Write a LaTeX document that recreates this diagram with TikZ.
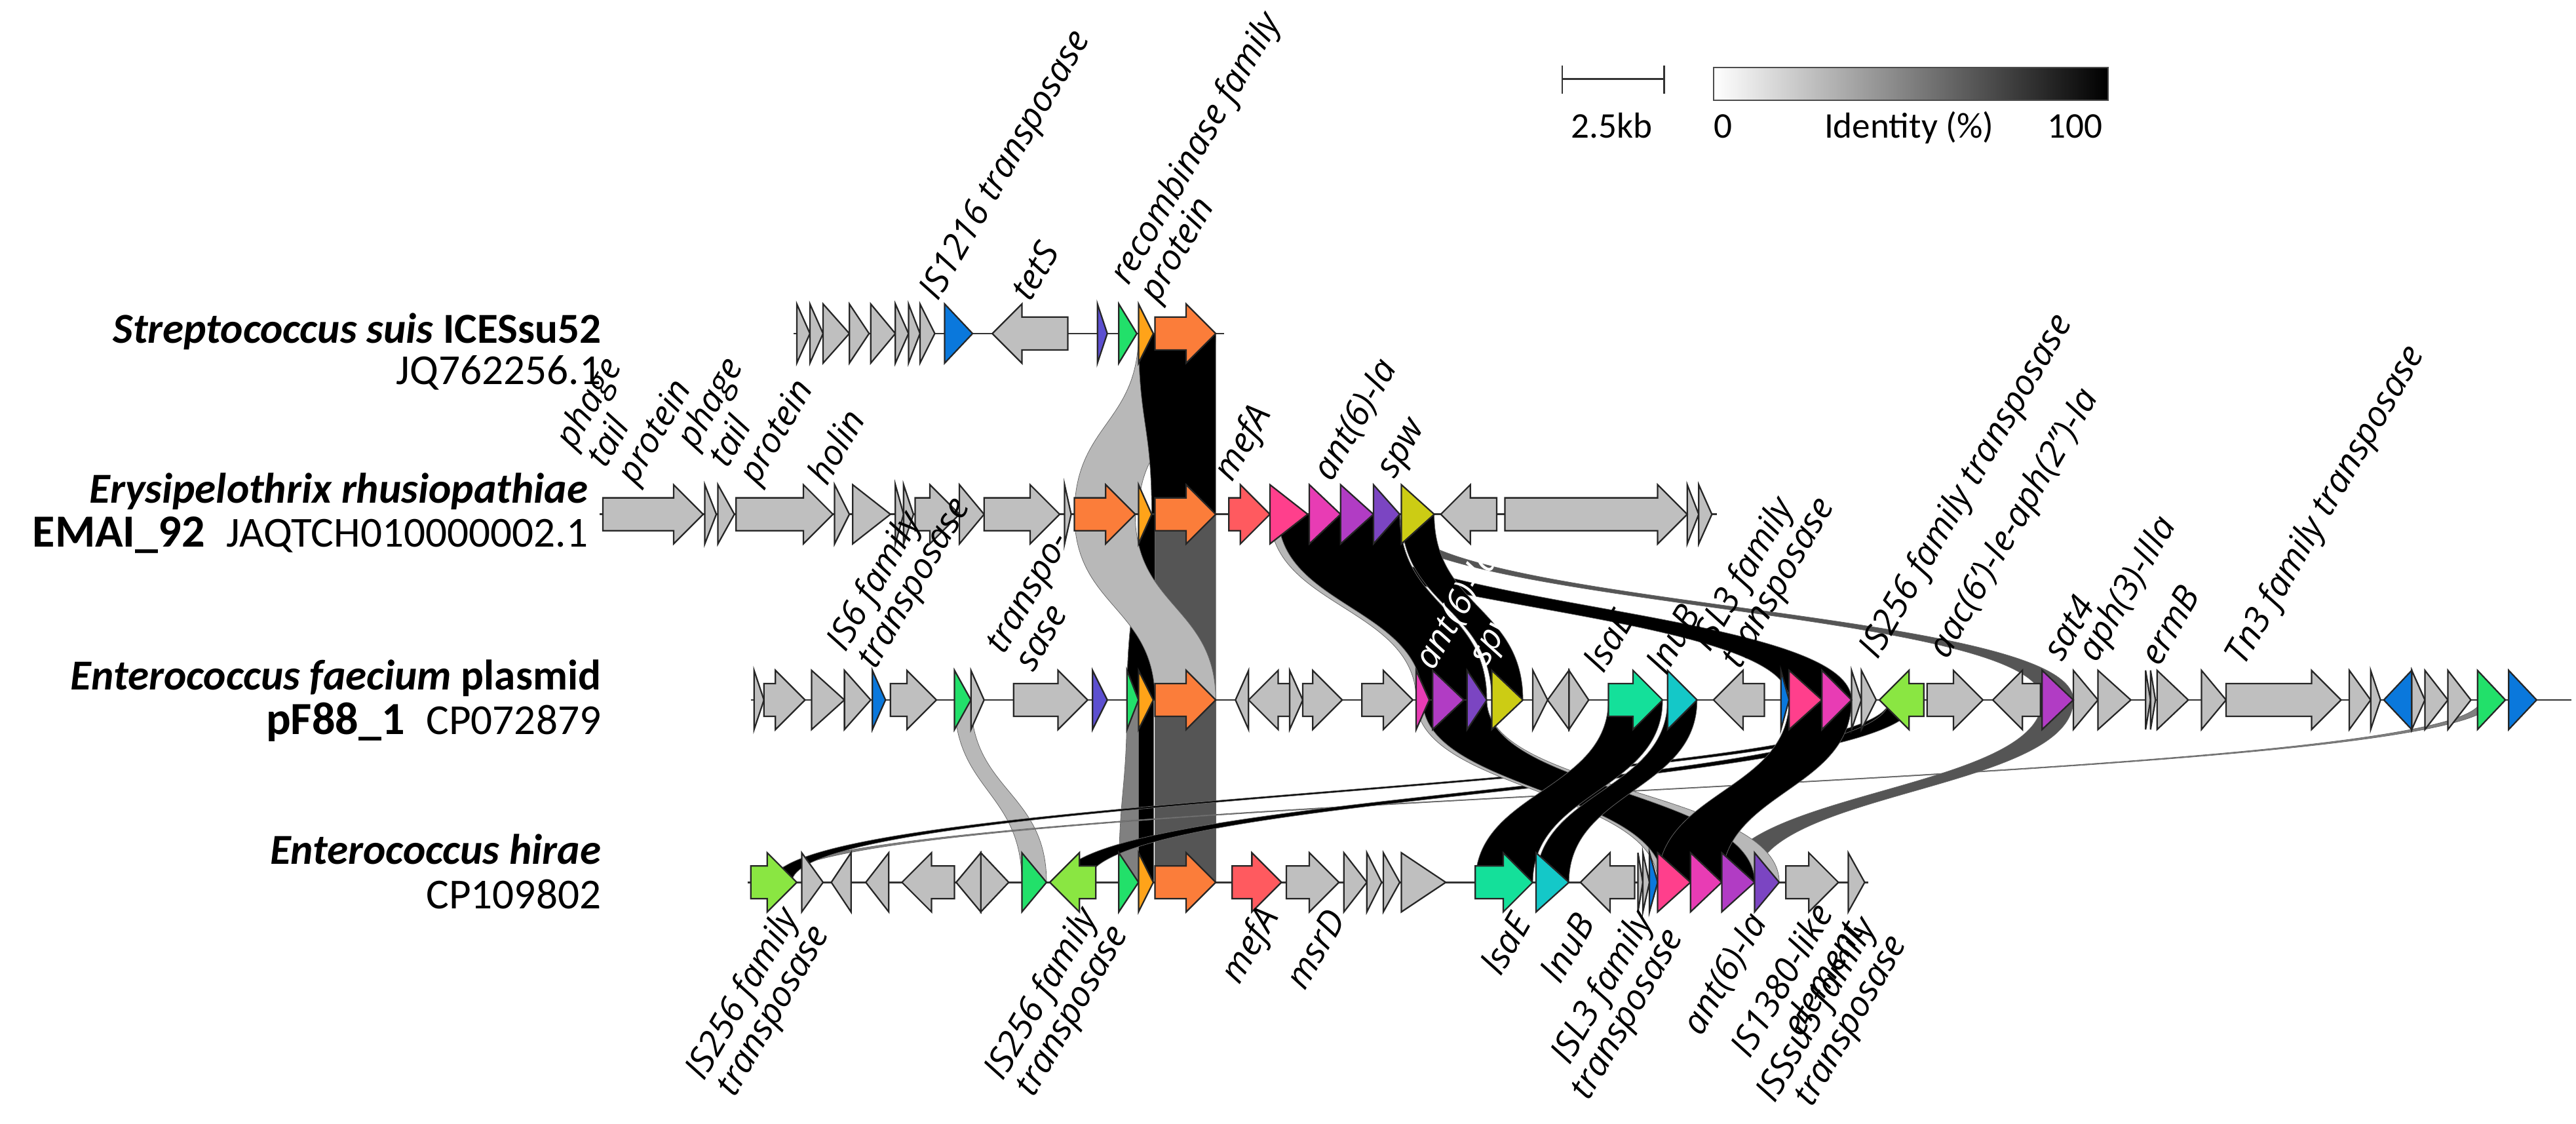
\documentclass[tikz,border=0pt]{standalone}
\usepackage{fontspec}
\setmainfont{Carlito}
\newfontfamily\genefont{Open Sans}
\usepackage{tikz}
\usetikzlibrary{positioning}

\definecolor{cgray}{HTML}{BFBFBF}
\definecolor{cblue}{HTML}{0A78DC}
\definecolor{cindigo}{HTML}{5C4FD0}
\definecolor{cgreen}{HTML}{22E06A}
\definecolor{corS}{HTML}{FFA319}
\definecolor{corange}{HTML}{FB7D3A}
\definecolor{cred}{HTML}{FF5A5F}
\definecolor{cpink}{HTML}{FF3F8C}
\definecolor{cmag}{HTML}{E83CB4}
\definecolor{cpurple}{HTML}{B13CC4}
\definecolor{cviolet}{HTML}{7B45C2}
\definecolor{cyellow}{HTML}{CCCC14}
\definecolor{clsa}{HTML}{14E09A}
\definecolor{ccyan}{HTML}{14C8C8}
\definecolor{clgreen}{HTML}{8AE642}
\definecolor{ribL}{HTML}{B8B8B8}
\definecolor{ribM}{HTML}{808080}
\definecolor{ribD}{HTML}{555555}

\tikzset{
  gene/.style={draw=black!85, line width=0.9pt, line join=miter},
  track/.style={draw=black!80, line width=1pt},
  rib/.style={draw=black!60, line width=0.3pt},
  glab/.style={font={\genefont\itshape\fontsize{21.5}{21}\selectfont}, rotate=60, inner sep=1pt},
  slab/.style={font={\fontsize{26}{28}\selectfont}, anchor=base east, inner sep=0pt},
  legend/.style={font={\fontsize{22}{24}\selectfont}, anchor=base, inner sep=0pt}
}

% genes: x1, x2, y, colour
\newcommand{\gf}[4]{\filldraw[gene,fill=#4] (#1,#3-10) -- (#2-18,#3-10) -- (#2-18,#3-18) -- (#2,#3) -- (#2-18,#3+18) -- (#2-18,#3+10) -- (#1,#3+10) -- cycle;}
\newcommand{\gr}[4]{\filldraw[gene,fill=#4] (#2,#3-10) -- (#1+18,#3-10) -- (#1+18,#3-18) -- (#1,#3) -- (#1+18,#3+18) -- (#1+18,#3+10) -- (#2,#3+10) -- cycle;}
\newcommand{\tf}[4]{\filldraw[gene,fill=#4] (#1,#3-18) -- (#2,#3) -- (#1,#3+18) -- cycle;}
\newcommand{\tr}[4]{\filldraw[gene,fill=#4] (#2,#3-18) -- (#1,#3) -- (#2,#3+18) -- cycle;}
% identity band: x1, x2, y (upper), x1, x2, y (lower), colour
\newcommand{\band}[7]{\filldraw[rib,fill=#7] (#1,#3) .. controls (#1,{(#3+#6)/2}) and (#4,{(#3+#6)/2}) .. (#4,#6) -- (#5,#6) .. controls (#5,{(#3+#6)/2}) and (#2,{(#3+#6)/2}) .. (#2,#3) -- cycle;}
% labels above / below a track
\newcommand{\up}[3]{\node[glab, anchor=south west, align=left] at (#1,#2) {#3};}
\newcommand{\dn}[3]{\node[glab, anchor=north east, align=right] at (#1,#2) {#3};}

\def\yA{203}
\def\yB{313}
\def\yC{426}
\def\yD{537}

\begin{document}
\begin{tikzpicture}[x=1pt, y=-1pt]
    \useasboundingbox (0,0) rectangle (1568,684);

    % Legend
    \draw[track] (951,40) -- (951,57);
    \draw[track] (1013,40) -- (1013,57);
    \draw[track] (951,48) -- (1013,48);
    \node[legend] (scale) at (981,84) {2.5kb};
    \shade[left color=white, right color=black] (1043,41) rectangle (1283,61);
    \draw[black!70, line width=0.8pt] (1043,41) rectangle (1283,61);
    \node[legend] (id0) at (1049,84) {0};
    \node[legend] (idt) at (1162,84) {Identity (\%)};
    \node[legend] (id100) at (1263,84) {100};

    % Species
    \node[slab] (sp1) at (366,209) {\textbf{\textit{Streptococcus suis} ICESsu52}};
    \node[slab] (ac1) at (366,234) {JQ762256.1};
    \node[slab] (sp2) at (358,306) {\textbf{\textit{Erysipelothrix rhusiopathiae}}};
    \node[slab] (ac2) at (358,333) {{\fontsize{28}{30}\selectfont\textbf{EMAI\_92}}\enspace JAQTCH010000002.1};
    \node[slab] (sp3) at (366,420) {\textbf{\textit{Enterococcus faecium} plasmid}};
    \node[slab] (ac3) at (366,447) {{\fontsize{28}{30}\selectfont\textbf{pF88\_1}}\enspace CP072879};
    \node[slab] (sp4) at (366,526) {\textbf{\textit{Enterococcus hirae}}};
    \node[slab] (ac4) at (366,553) {CP109802};

    % Identity bands: track 1 to 2
    \band{693}{740}{\yA}{654}{693}{\yB}{ribL}
    \band{693}{740}{\yA}{701}{740}{\yB}{black}
    % track 2 to 3
    \band{693}{740}{\yB}{686}{740}{\yC}{ribD}
    \band{693}{703}{\yB}{686}{703}{\yC}{black}
    \band{654}{691}{\yB}{703}{740}{\yC}{ribL}
    \band{840}{852}{\yB}{1243}{1262}{\yC}{ribD}
    \band{778}{816}{\yB}{1089}{1127}{\yC}{black}
    \band{773}{852}{\yB}{862}{905}{\yC}{ribL}
    \band{778}{852}{\yB}{866}{905}{\yC}{black}
    \band{853}{873}{\yB}{908}{927}{\yC}{black}
    % track 3 to 4
    \band{581}{591}{\yC}{622}{637}{\yD}{ribL}
    \band{686}{702}{\yC}{681}{702}{\yD}{ribM}
    \band{693}{702}{\yC}{693}{702}{\yD}{black}
    \band{703}{740}{\yC}{703}{740}{\yD}{ribD}
    \band{1510}{1518}{\yC}{466}{474}{\yD}{ribM}
    \band{1150}{1162}{\yC}{470}{482}{\yD}{black}
    \band{1150}{1166}{\yC}{645}{662}{\yD}{black}
    \band{1243}{1262}{\yC}{1048}{1068}{\yD}{ribD}
    \band{862}{905}{\yC}{1009}{1083}{\yD}{ribL}
    \band{866}{905}{\yC}{1012}{1068}{\yD}{black}
    \band{1089}{1127}{\yC}{1009}{1048}{\yD}{black}
    \band{979}{1012}{\yC}{898}{933}{\yD}{black}
    \band{1015}{1033}{\yC}{935}{955}{\yD}{black}

    % Track 1
    \draw[track] (483,\yA) -- (745,\yA);
    \foreach \a/\b in {485/493, 493/501, 501/517, 517/529, 530/545, 545/553, 553/560, 560/569}
        {\tf{\a}{\b}{\yA}{cgray}}
    \tf{575}{592}{\yA}{cblue}
    \gr{604}{650}{\yA}{cgray}
    \tf{668}{674}{\yA}{cindigo}
    \tf{681}{692}{\yA}{cgreen}
    \tf{693}{702}{\yA}{corS}
    \gf{703}{740}{\yA}{corange}

    % Track 2
    \draw[track] (365,\yB) -- (1045,\yB);
    \gf{367}{428}{\yB}{cgray}
    \foreach \a/\b in {429/436, 437/447, 508/517, 519/542, 545/550, 550/556, 584/599, 648/652, 1027/1034, 1034/1042}
        {\tf{\a}{\b}{\yB}{cgray}}
    \gf{448}{507}{\yB}{cgray}
    \gf{557}{584}{\yB}{cgray}
    \gf{599}{645}{\yB}{cgray}
    \gf{654}{691}{\yB}{corange}
    \tf{693}{701}{\yB}{corS}
    \gf{703}{740}{\yB}{corange}
    \gf{748}{773}{\yB}{cred}
    \tf{773}{796}{\yB}{cpink}
    \tf{797}{816}{\yB}{cmag}
    \tf{816}{836}{\yB}{cpurple}
    \tf{836}{852}{\yB}{cviolet}
    \tf{853}{873}{\yB}{cyellow}
    \gr{877}{911}{\yB}{cgray}
    \gf{916}{1027}{\yB}{cgray}

    % Track 3
    \draw[track] (457,\yC) -- (1565,\yC);
    \foreach \a/\b in {459/465, 494/514, 514/530, 591/599, 785/793, 933/942, 955/967, 1127/1133, 1133/1142, 1262/1277, 1277/1297, 1306/1309, 1309/1312, 1313/1332, 1340/1355, 1430/1443, 1443/1449, 1468/1476, 1476/1490, 1490/1504}
        {\tf{\a}{\b}{\yC}{cgray}}
    \foreach \a/\b in {752/760, 942/955}
        {\tr{\a}{\b}{\yC}{cgray}}
    \gf{465}{490}{\yC}{cgray}
    \tf{531}{539}{\yC}{cblue}
    \gf{542}{570}{\yC}{cgray}
    \tf{581}{591}{\yC}{cgreen}
    \gf{617}{662}{\yC}{cgray}
    \tf{665}{674}{\yC}{cindigo}
    \tf{686}{693}{\yC}{cgreen}
    \tf{693}{702}{\yC}{corS}
    \gf{703}{740}{\yC}{corange}
    \gr{760}{785}{\yC}{cgray}
    \gf{793}{817}{\yC}{cgray}
    \gf{829}{860}{\yC}{cgray}
    \tf{862}{870}{\yC}{cmag}
    \tf{872}{891}{\yC}{cpurple}
    \tf{893}{905}{\yC}{cviolet}
    \tf{908}{927}{\yC}{cyellow}
    \gf{979}{1012}{\yC}{clsa}
    \tf{1015}{1033}{\yC}{ccyan}
    \gr{1043}{1074}{\yC}{cgray}
    \tf{1084}{1089}{\yC}{cblue}
    \tf{1089}{1109}{\yC}{cpink}
    \tf{1109}{1127}{\yC}{cmag}
    \gr{1144}{1171}{\yC}{clgreen}
    \gf{1173}{1207}{\yC}{cgray}
    \gr{1213}{1242}{\yC}{cgray}
    \tf{1243}{1262}{\yC}{cpurple}
    \gf{1355}{1425}{\yC}{cgray}
    \tr{1451}{1468}{\yC}{cblue}
    \tf{1508}{1525}{\yC}{cgreen}
    \tf{1527}{1544}{\yC}{cblue}

    % Track 4
    \draw[track] (455,\yD) -- (1137,\yD);
    \gf{457}{485}{\yD}{clgreen}
    \foreach \a/\b in {488/501, 597/614, 818/832, 832/841, 842/852, 853/880, 997/1000, 1000/1004, 1125/1135}
        {\tf{\a}{\b}{\yD}{cgray}}
    \foreach \a/\b in {506/518, 527/541, 582/597}
        {\tr{\a}{\b}{\yD}{cgray}}
    \gr{549}{581}{\yD}{cgray}
    \tf{622}{637}{\yD}{cgreen}
    \gr{639}{667}{\yD}{clgreen}
    \tf{681}{693}{\yD}{cgreen}
    \tf{693}{702}{\yD}{corS}
    \gf{703}{740}{\yD}{corange}
    \gf{750}{780}{\yD}{cred}
    \gf{783}{815}{\yD}{cgray}
    \gf{898}{933}{\yD}{clsa}
    \tf{935}{955}{\yD}{ccyan}
    \gr{962}{995}{\yD}{cgray}
    \tf{1004}{1009}{\yD}{cblue}
    \tf{1009}{1029}{\yD}{cpink}
    \tf{1029}{1048}{\yD}{cmag}
    \tf{1048}{1068}{\yD}{cpurple}
    \tf{1068}{1083}{\yD}{cviolet}
    \gf{1087}{1119}{\yD}{cgray}

    % Gene labels
    \up{576}{188}{IS1216 transposase}
    \up{628}{186}{tetS}
    \up{710}{189}{recombinase family\\protein}
    \up{392}{300}{phage\\tail\\protein}
    \up{466}{300}{phage\\tail\\protein}
    \up{504}{298}{holin}
    \up{755}{298}{mefA}
    \up{814}{297}{ant(6)-Ia}
    \up{854}{296}{spw}
    \up{538}{412}{IS6 family\\transposase}
    \up{630}{411}{transpo-\\sase}
    \node[glab, anchor=south west, text=white] (antw) at (876,412) {ant(6)-Ia};
    \node[glab, anchor=south west, text=white] (spww) at (910,410) {spw};
    \up{977}{412}{lsaE}
    \up{1015}{413}{lnuB}
    \up{1064}{412}{ISL3 family\\transposase}
    \up{1148}{406}{IS256 family transposase}
    \up{1190}{406}{aac(6’)-Ie-aph(2”)-Ia}
    \up{1256}{405}{sat4}
    \up{1281}{408}{aph(3)-IIIa}
    \up{1315}{408}{ermB}
    \up{1371}{410}{Tn3 family transposase}
    \dn{472}{548}{IS256 family\\transposase}
    \dn{654}{548}{IS256 family\\transposase}
    \dn{764}{548}{mefA}
    \dn{806}{550}{msrD}
    \dn{918}{552}{lsaE}
    \dn{957}{552}{lnuB}
    \dn{992}{550}{ISL3 family\\transposase}
    \dn{1062}{552}{ant(6)-Ia}
    \dn{1102}{546}{IS1380-like\\element}
    \dn{1128}{554}{ISSsu5 family\\transposase}
\end{tikzpicture}
\end{document}
